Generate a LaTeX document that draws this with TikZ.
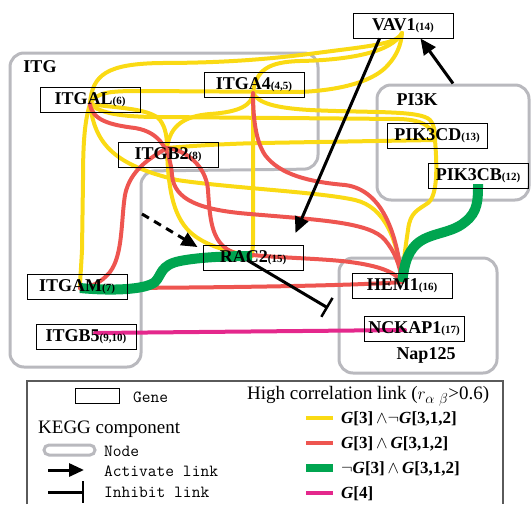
\documentclass[tikz,border=0pt]{standalone}
\usepackage{fontspec}
\setmainfont{Liberation Serif}
\usetikzlibrary{arrows.meta,calc}
\pgfdeclarelayer{links}
\pgfsetlayers{links,main}
\definecolor{lkYel}{RGB}{250,218,20}
\definecolor{lkRed}{RGB}{238,85,80}
\definecolor{lkGrn}{RGB}{0,165,80}
\definecolor{lkMag}{RGB}{228,40,140}
\definecolor{grpGray}{RGB}{185,185,190}
\definecolor{frameGray}{RGB}{90,90,90}
\newcommand\gidx[1]{{\fontsize{11}{11}\selectfont #1}}
\newcommand\bG{\textit{G}}
\begin{document}
\begin{tikzpicture}[x=1pt,y=-1pt,
  gene/.style={draw=black, line width=0.9pt, minimum width=100pt, minimum height=25pt,
    inner sep=0pt, font=\bfseries\fontsize{18}{18}\selectfont},
  grp/.style={draw=grpGray, line width=3pt, rounded corners=14pt, inner sep=0pt},
  grplabel/.style={font=\bfseries\fontsize{18}{18}\selectfont, inner sep=0pt},
  ylink/.style={lkYel, line width=4pt, line cap=round},
  rlink/.style={lkRed, line width=4pt, line cap=round},
  glink/.style={lkGrn, line width=10pt},
  mlink/.style={lkMag, line width=4pt, line cap=round},
  activate/.style={line width=3pt, -{Triangle[length=16pt,width=14pt]}},
  inhibit/.style={line width=3pt, -{Bar[width=22pt,line width=2.5pt]}},
  monotext/.style={anchor=west, inner sep=0pt, font=\ttfamily\fontsize{17}{17}\selectfont},
  serifleg/.style={anchor=west, inner sep=0pt, font=\fontsize{19}{19}\selectfont},
  boldleg/.style={anchor=west, inner sep=0pt, font=\bfseries\fontsize{17}{17}\selectfont}
]
\useasboundingbox (0,0) rectangle (532,504);

% ---------------- genes ----------------
\node[gene] (VAV) at (403,25.5)  {VAV1\gidx{(14)}};
\node[gene] (AL)  at (90,100)    {ITGAL\gidx{(6)}};
\node[gene] (A4)  at (254,84.5)  {ITGA4\gidx{(4,5)}};
\node[gene] (B2)  at (168,154.5) {ITGB2\gidx{(8)}};
\node[gene] (CD)  at (437,135.5) {PIK3CD\gidx{(13)}};
\node[gene] (CB)  at (478,176)   {PIK3CB\gidx{(12)}};
\node[gene] (RAC) at (253,258)   {RAC2\gidx{(15)}};
\node[gene] (AM)  at (77,286.5)  {ITGAM\gidx{(7)}};
\node[gene] (B5)  at (86,336.5)  {ITGB5\gidx{(9,10)}};
\node[gene] (HEM) at (402,285.5) {HEM1\gidx{(16)}};
\node[gene] (NCK) at (414,328.5) {NCKAP1\gidx{(17)}};

% hubs where the correlation links meet inside each gene box
\coordinate (hVAV) at (402,33);
\coordinate (hAL)  at (90,104);
\coordinate (hA4)  at (253,93);
\coordinate (hB2)  at (167,148);
\coordinate (hCD)  at (435,140);
\coordinate (hCB)  at (478,184);
\coordinate (hRAC) at (252,256);
\coordinate (hAM)  at (80,288);
\coordinate (hB5)  at (95,333);
\coordinate (hHEM) at (402,282);
\coordinate (hNCK) at (405,330);

% ---------------- KEGG components ----------------
\node[grplabel] (ITGt)  at (40,67)  {ITG};
\node[grplabel] (PI3Kt) at (417,100) {PI3K};
\node[grplabel] (NAPt)  at (426,355) {Nap125};

\begin{pgfonlayer}{links}
\draw[draw=grpGray, line width=3pt, rounded corners=14pt]
  (10,53) -- (318,53) -- (318,169) -- (141,171) -- (141,367) -- (10,367) -- cycle;
\node[grp, minimum width=152pt, minimum height=115pt] (PI3K) at (453,142.5) {};
\node[grp, minimum width=158pt, minimum height=115pt] (NAP)  at (418,315.5) {};

% ---- G[3] and not G[3,1,2]
\draw[ylink] (hAL) .. controls (92,74) and (108,64) .. (160,63)
  .. controls (250,63) and (300,55) .. (340,50) .. controls (380,45) and (398,42) .. (hVAV);
\draw[ylink] (hA4) .. controls (256,70) and (268,62) .. (300,61)
  .. controls (350,60) and (392,52) .. (hVAV);
\draw[ylink] (hAL) .. controls (96,92) and (110,91) .. (140,91) -- (300,92)
  .. controls (345,90) and (375,80) .. (388,65) .. controls (397,55) and (401,45) .. (hVAV);
\draw[ylink] (hA4) .. controls (258,103) and (275,108) .. (310,110)
  .. controls (370,113) and (420,110) .. (430,120) .. controls (435,126) and (435,133) .. (hCD);
\draw[ylink] (hAL) .. controls (100,113) and (120,117) .. (160,117) -- (400,119)
  .. controls (425,120) and (433,128) .. (hCD);
\draw[ylink] (hB2) .. controls (190,146) and (220,144) .. (260,143) -- (hCD);
\draw[ylink] (hCD) .. controls (437,165) and (438,195) .. (428,203)
  .. controls (418,210) and (410,212) .. (408,230) .. controls (405,250) and (403,265) .. (hHEM);
\draw[ylink] (hAL) .. controls (95,145) and (115,165) .. (177,180)
  .. controls (230,188) and (320,192) .. (355,200) .. controls (385,207) and (398,240) .. (hHEM);
\draw[ylink] (hAL) .. controls (85,120) and (83,140) .. (83,180) -- (82,250)
  .. controls (81,270) and (80,280) .. (hAM);
\draw[ylink] (hAL) .. controls (115,108) and (150,108) .. (160,120)
  .. controls (166,128) and (167,138) .. (hB2);
\draw[ylink] (hB2) .. controls (170,125) and (185,116) .. (210,114)
  .. controls (240,112) and (252,105) .. (hA4);
\draw[ylink] (hB2) .. controls (168,185) and (172,215) .. (190,232)
  .. controls (205,246) and (230,252) .. (hRAC);
\draw[ylink] (hA4) -- (253,240) .. controls (253,250) and (252,253) .. (hRAC);

% ---- G[3] and G[3,1,2]
\draw[rlink] (hAL) .. controls (92,120) and (110,125) .. (135,128)
  .. controls (160,132) and (170,150) .. (172,175) .. controls (174,200) and (200,210) .. (250,214)
  .. controls (320,220) and (370,222) .. (385,240) .. controls (395,252) and (400,265) .. (hHEM);
\draw[rlink] (hB2) .. controls (185,150) and (206,165) .. (208,190)
  .. controls (210,222) and (212,245) .. (235,253) .. controls (270,258) and (320,258) .. (350,262)
  .. controls (380,266) and (395,272) .. (hHEM);
\draw[rlink] (hB2) .. controls (150,158) and (130,170) .. (125,195)
  .. controls (121,220) and (123,255) .. (110,272) .. controls (100,284) and (90,287) .. (hAM);
\draw[rlink] (hA4) .. controls (253,115) and (255,140) .. (265,155)
  .. controls (280,175) and (310,182) .. (345,185) .. controls (385,190) and (398,240) .. (hHEM);
\draw[rlink] (hAM) .. controls (200,288) and (350,286) .. (hHEM);

% ---- not G[3] and G[3,1,2]
\draw[glink] (hAM) .. controls (110,291) and (145,290) .. (155,282)
  .. controls (162,275) and (160,265) .. (180,261) .. controls (200,257) and (230,256) .. (hRAC);
\draw[glink] (hCB) .. controls (478,200) and (478,212) .. (465,222)
  .. controls (450,235) and (425,232) .. (413,248) .. controls (405,258) and (404,270) .. (hHEM);

% ---- G[4]
\draw[mlink] (hB5) -- (hNCK);
\end{pgfonlayer}

% ---------------- KEGG links ----------------
\coordinate (dashStart) at (142,214);
\coordinate (inhEnd) at (328,308);
\draw[activate] ($(VAV.south west)+(27,0)$) -- ($(RAC.north east)+(-8,-12)$);
\draw[activate] (PI3K.north) -- ($(VAV.south east)+(-33,0)$);
\draw[activate, dash pattern=on 8pt off 6pt] (dashStart) -- ($(RAC.north west)+(-5,2)$);
\draw[inhibit] ($(RAC.center)+(-6,2)$) -- (inhEnd);

% ---------------- legend ----------------
\draw[frameGray, line width=1.2pt] (27,504) -- (27,381) -- (503,381) -- (503,504);
\node[draw, line width=0.9pt, minimum width=44pt, minimum height=15pt, inner sep=0pt] (lgGene) at (97,395.5) {};
\node[monotext] (lgGeneT) at (133,397) {Gene};
\node[serifleg] (lgKegg) at (38,429) {KEGG component};
\node[draw=grpGray, line width=3pt, minimum width=51pt, minimum height=10pt,
  rounded corners=5pt, inner sep=0pt] (lgNode) at (69.5,450) {};
\node[monotext] (lgNodeT) at (104,451) {Node};
\coordinate (lgA1) at (48,470);
\coordinate (lgA2) at (84,470);
\draw[activate, -{Triangle[length=15pt,width=13pt]}] (lgA1) -- (lgA2);
\node[monotext] (lgActT) at (104,471) {Activate link};
\coordinate (lgI1) at (48,492);
\coordinate (lgI2) at (84,492);
\draw[inhibit] (lgI1) -- (lgI2);
\node[monotext] (lgInhT) at (104,492) {Inhibit link};

\node[serifleg] (lgHigh) at (247,396) {High correlation link ($r_{\alpha\ \beta}${>}0.6)};
\coordinate (lgY1) at (306,418); \coordinate (lgY2) at (333,418);
\coordinate (lgR1) at (306,443); \coordinate (lgR2) at (333,443);
\coordinate (lgG1) at (306,468); \coordinate (lgG2) at (333,468);
\coordinate (lgM1) at (306,493); \coordinate (lgM2) at (333,493);
\draw[lkYel, line width=4pt] (lgY1) -- (lgY2);
\draw[lkRed, line width=4pt] (lgR1) -- (lgR2);
\draw[lkGrn, line width=8pt] (lgG1) -- (lgG2);
\draw[lkMag, line width=4pt] (lgM1) -- (lgM2);
\node[boldleg] (lgYT) at (341,419) {\bG[3]$\,\wedge\neg$\bG[3,1,2]};
\node[boldleg] (lgRT) at (341,444) {\bG[3]$\,\wedge\,$\bG[3,1,2]};
\node[boldleg] (lgGT) at (341,469) {$\neg$\bG[3]$\,\wedge\,$\bG[3,1,2]};
\node[boldleg] (lgMT) at (341,494) {\bG[4]};
\end{tikzpicture}
\end{document}
